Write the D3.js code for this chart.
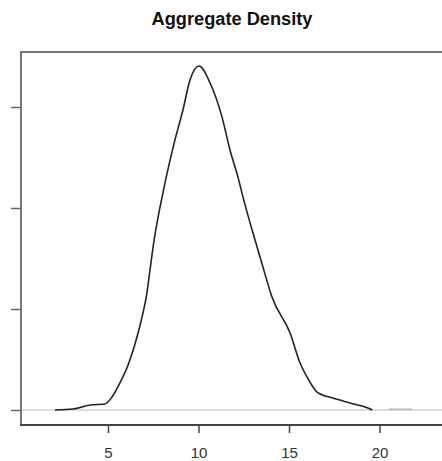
<!DOCTYPE html>
<html>
<head>
<meta charset="utf-8">
<script src="https://cdn.jsdelivr.net/npm/d3@7"></script>
<style>
  body { margin: 0; background: #fff; }
  svg { display: block; }
</style>
</head>
<body>
<svg width="442" height="461"></svg>
<script>
  // density curve
  var xs = [2.07, 3.07, 4.01, 4.83, 5.22, 5.66, 6.11, 6.60, 6.88, 7.15, 7.32, 7.49, 8.15, 8.70, 9.14, 9.53, 10.03,
            10.64, 11.30, 11.74, 12.18, 12.46, 13.01, 13.56, 14.06, 15.06, 15.61, 16.0, 16.55, 17.43, 18.37, 19.36, 19.6];
  var ys = [0, 0.0005, 0.0025, 0.003, 0.0064, 0.0134, 0.0223, 0.0361, 0.046, 0.0579, 0.0693, 0.0807, 0.1124, 0.1337, 0.1485, 0.1634, 0.1703,
            0.1619, 0.145, 0.1287, 0.1153, 0.1054, 0.0876, 0.0708, 0.0559, 0.0381, 0.0233, 0.0163, 0.0089, 0.0059, 0.0035, 0.001, 0];
  var xTicks = [5, 10, 15, 20];
  var yTicks = [0, 0.05, 0.10, 0.15];
  var title = 'Aggregate Density';

  var svg = d3.select('svg');
  var width = +svg.attr('width');

  var x = d3.scaleLinear().domain([0, 24]).range([17.5, 17.5 + 18.1 * 24]);
  var y = d3.scaleLinear().domain([0, 0.15]).range([410, 107]);

  var plotLeft = 21, plotTop = 52, plotBottom = 425;

  svg.append('text')
    .attr('x', 232)
    .attr('y', 25)
    .attr('text-anchor', 'middle')
    .attr('font-family', 'Liberation Sans, Arial, sans-serif')
    .attr('font-weight', 'bold')
    .attr('font-size', 17.5)
    .attr('textLength', 161)
    .attr('lengthAdjust', 'spacingAndGlyphs')
    .attr('fill', '#111')
    .text(title);

  // zero line
  svg.append('line')
    .attr('x1', plotLeft).attr('x2', width)
    .attr('y1', y(0)).attr('y2', y(0))
    .attr('stroke', '#d0d0d0')
    .attr('stroke-width', 1.5);

  // x axis
  var xAxis = svg.append('g')
    .attr('transform', 'translate(0,' + plotBottom + ')')
    .call(d3.axisBottom(x).tickValues(xTicks).tickSize(8).tickPadding(14).tickSizeOuter(0));
  xAxis.select('.domain').remove();
  xAxis.selectAll('line').attr('stroke', '#444').attr('stroke-width', 1.5);
  xAxis.selectAll('text')
    .attr('font-family', 'Liberation Sans, Arial, sans-serif')
    .attr('font-size', 15)
    .attr('fill', '#333');

  // y axis (labels fall outside the picture)
  var yAxis = svg.append('g')
    .attr('transform', 'translate(' + plotLeft + ',0)')
    .call(d3.axisLeft(y).tickValues(yTicks).tickSize(10).tickFormat(''));
  yAxis.select('.domain').remove();
  yAxis.selectAll('line').attr('stroke', '#666').attr('stroke-width', 1.5);

  // frame, right edge is off the picture
  svg.append('path')
    .attr('d', 'M' + width + ',' + plotTop + 'H' + plotLeft + 'V' + plotBottom)
    .attr('fill', 'none')
    .attr('stroke', '#777')
    .attr('stroke-width', 2);
  svg.append('line')
    .attr('x1', plotLeft - 1).attr('x2', width)
    .attr('y1', plotBottom).attr('y2', plotBottom)
    .attr('stroke', '#444')
    .attr('stroke-width', 2);

  // small bump right of the curve
  svg.append('line')
    .attr('x1', x(20.5)).attr('x2', x(21.8))
    .attr('y1', y(0.0004)).attr('y2', y(0.0004))
    .attr('stroke', '#bbb')
    .attr('stroke-width', 1.5);

  var line = d3.line()
    .x(function(d, i) { return x(xs[i]); })
    .y(function(d, i) { return y(ys[i]); })
    .curve(d3.curveMonotoneX);

  svg.append('path')
    .datum(xs)
    .attr('d', line)
    .attr('fill', 'none')
    .attr('stroke', '#222')
    .attr('stroke-width', 1.6);
</script>
</body>
</html>
